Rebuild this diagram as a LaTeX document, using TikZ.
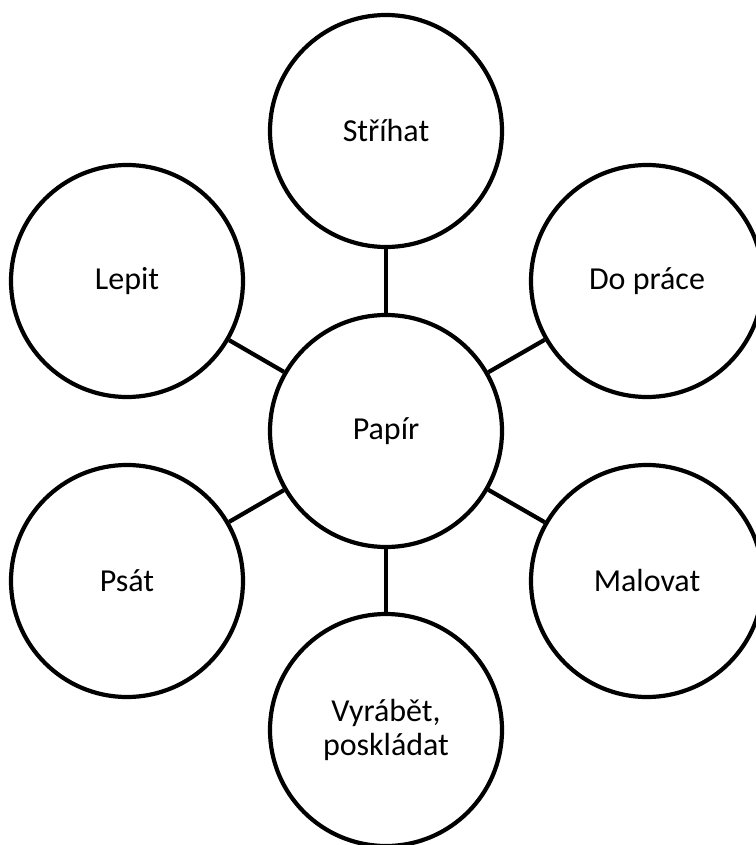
\documentclass[tikz,border=0pt]{standalone}
\usepackage{fontspec}
\setmainfont{Carlito}
\begin{document}
\begin{tikzpicture}[x=1pt,y=-1pt,
  bubble/.style={circle, draw=black, line width=4.2pt, fill=white,
    minimum size=232pt, inner sep=0pt, align=center,
    font=\fontsize{32}{34}\selectfont},
  link/.style={draw=black, line width=4.2pt}]
  % page frame
  \fill[white] (0,0) rectangle (755,845);
  \useasboundingbox (0,0) rectangle (755,845);
  % hub and surrounding topics
  \node[bubble] (hub)  at (386,431) {Papír};
  \node[bubble] (cut)  at (386,131) {Stříhat};
  \node[bubble] (glue) at (127,281) {Lepit};
  \node[bubble] (work) at (647,281) {Do práce};
  \node[bubble] (write) at (127,581) {Psát};
  \node[bubble] (paint) at (647,581) {Malovat};
  \node[bubble] (make) at (386,730) {Vyrábět,\\poskládat};
  % spokes
  \foreach \t in {cut,glue,work,write,paint,make}
    \draw[link] (hub) -- (\t);
\end{tikzpicture}
\end{document}
